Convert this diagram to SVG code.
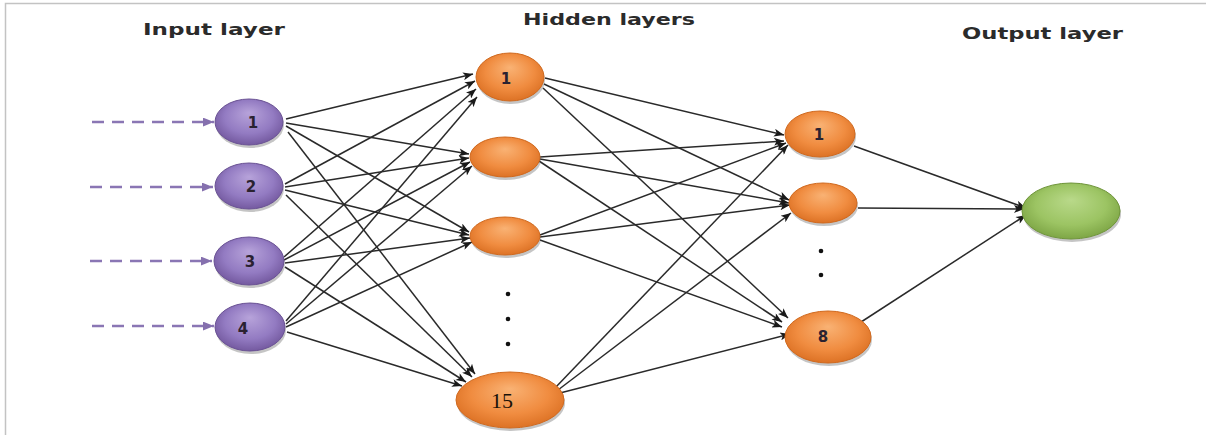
<svg xmlns="http://www.w3.org/2000/svg" width="1206" height="435" viewBox="0 0 1206 435">
  <defs>
    <radialGradient id="gPurple" cx="0.5" cy="0.45" r="0.6" fx="0.5" fy="0.3">
      <stop offset="0" stop-color="#b7a3da"/>
      <stop offset="0.6" stop-color="#937bc2"/>
      <stop offset="1" stop-color="#6e5399"/>
    </radialGradient>
    <radialGradient id="gOrange" cx="0.5" cy="0.45" r="0.6" fx="0.5" fy="0.3">
      <stop offset="0" stop-color="#f9b274"/>
      <stop offset="0.6" stop-color="#f08c40"/>
      <stop offset="1" stop-color="#d96d20"/>
    </radialGradient>
    <radialGradient id="gGreen" cx="0.5" cy="0.45" r="0.6" fx="0.5" fy="0.3">
      <stop offset="0" stop-color="#b9d98a"/>
      <stop offset="0.6" stop-color="#9cc463"/>
      <stop offset="1" stop-color="#78a040"/>
    </radialGradient>
    <marker id="arr" viewBox="0 0 10 8" refX="10" refY="4" markerWidth="11" markerHeight="8" markerUnits="userSpaceOnUse" orient="auto">
      <path d="M0,0 L10,4 L0,8 L2.5,4 Z" fill="#1a1a1a"/>
    </marker>
    <marker id="arrIn" viewBox="0 0 10 8" refX="10" refY="4" markerWidth="11" markerHeight="9" markerUnits="userSpaceOnUse" orient="auto">
      <path d="M0,0 L10,4 L0,8 Z" fill="#8570ae"/>
    </marker>
  </defs>
  <style>
    .title { font-family: "DejaVu Sans", Verdana, sans-serif; font-weight: bold; font-size: 15px; fill: #2b2b2b; }
    .num { font-family: "DejaVu Sans", Verdana, sans-serif; font-weight: bold; font-size: 15px; fill: #2a2230; text-anchor: middle; }
    .num15 { font-family: "Liberation Serif", "Times New Roman", serif; font-size: 22px; fill: #1a1208; text-anchor: middle; }
    .shadow { fill: #5a5a5a; opacity: 0.35; }
    .edge { stroke: #2a2a2a; stroke-width: 1.5; fill: none; marker-end: url(#arr); }
    .feed { stroke: #8a76b4; stroke-width: 2.5; stroke-dasharray: 12 8; fill: none; marker-end: url(#arrIn); }
    .dot { fill: #111; }
    .purple { fill: url(#gPurple); stroke: #6a5294; stroke-width: 1; }
    .orange { fill: url(#gOrange); stroke: #d0691e; stroke-width: 1; }
    .green { fill: url(#gGreen); stroke: #6f953a; stroke-width: 1; }
  </style>

  <!-- frame -->
  <rect x="0" y="0" width="1206" height="435" fill="#ffffff"/>
  <path d="M5.5,435 L5.5,3.5 L1206,3.5" fill="none" stroke="#c3c3c3" stroke-width="1.5"/>

  <!-- layer titles -->
  <text class="title" x="143" y="35" textLength="142" lengthAdjust="spacingAndGlyphs">Input layer</text>
  <text class="title" x="523" y="25" textLength="172" lengthAdjust="spacingAndGlyphs">Hidden layers</text>
  <text class="title" x="962" y="39" textLength="161" lengthAdjust="spacingAndGlyphs">Output layer</text>

  <g id="connectors">
    <!-- incoming signals -->
    <line class="feed" x1="92" y1="122" x2="214" y2="122"/>
    <line class="feed" x1="90" y1="187" x2="213" y2="187"/>
    <line class="feed" x1="90" y1="261" x2="212" y2="261"/>
    <line class="feed" x1="92" y1="326" x2="214" y2="326"/>

    <!-- input -> hidden 1 -->
    <line class="edge" x1="286" y1="119" x2="473" y2="74"/>
    <line class="edge" x1="285" y1="184" x2="475" y2="81"/>
    <line class="edge" x1="284" y1="257" x2="476" y2="89"/>
    <line class="edge" x1="286" y1="321" x2="477" y2="97"/>
    <!-- input -> hidden 2 -->
    <line class="edge" x1="286" y1="123" x2="469" y2="154"/>
    <line class="edge" x1="285" y1="187" x2="469" y2="158"/>
    <line class="edge" x1="284" y1="260" x2="470" y2="162"/>
    <line class="edge" x1="286" y1="324" x2="472" y2="166"/>
    <!-- input -> hidden 3 -->
    <line class="edge" x1="286" y1="126" x2="469" y2="232"/>
    <line class="edge" x1="285" y1="190" x2="469" y2="235"/>
    <line class="edge" x1="285" y1="263" x2="470" y2="238"/>
    <line class="edge" x1="286" y1="327" x2="472" y2="242"/>
    <!-- input -> hidden 15 -->
    <line class="edge" x1="288" y1="132" x2="475" y2="374"/>
    <line class="edge" x1="286" y1="195" x2="472" y2="377"/>
    <line class="edge" x1="285" y1="267" x2="466" y2="382"/>
    <line class="edge" x1="287" y1="332" x2="462" y2="386"/>

    <!-- hidden 1 -> second hidden layer -->
    <line class="edge" x1="545" y1="78" x2="784" y2="135"/>
    <line class="edge" x1="544" y1="84" x2="789" y2="200"/>
    <line class="edge" x1="543" y1="88" x2="788" y2="318"/>
    <!-- hidden 2 -->
    <line class="edge" x1="540" y1="157" x2="784" y2="141"/>
    <line class="edge" x1="540" y1="159" x2="789" y2="203"/>
    <line class="edge" x1="539" y1="161" x2="782" y2="322"/>
    <!-- hidden 3 -->
    <line class="edge" x1="540" y1="235" x2="786" y2="143"/>
    <line class="edge" x1="540" y1="237" x2="790" y2="205"/>
    <line class="edge" x1="540" y1="240" x2="782" y2="327"/>
    <!-- hidden 15 -->
    <line class="edge" x1="555" y1="388" x2="788" y2="145"/>
    <line class="edge" x1="558" y1="390" x2="791" y2="213"/>
    <line class="edge" x1="560" y1="393" x2="790" y2="334"/>

    <!-- second hidden layer -> output -->
    <line class="edge" x1="854" y1="146" x2="1026" y2="208"/>
    <line class="edge" x1="858" y1="208" x2="1024" y2="209"/>
    <line class="edge" x1="858" y1="324" x2="1026" y2="215"/>
  </g>

  <!-- input layer -->
  <g id="in1">
    <ellipse class="shadow" cx="250" cy="125" rx="34" ry="23"/>
    <ellipse class="purple" cx="249" cy="122" rx="34" ry="23"/>
    <text class="num" x="253" y="128">1</text>
  </g>
  <g id="in2">
    <ellipse class="shadow" cx="250" cy="189" rx="34" ry="23"/>
    <ellipse class="purple" cx="249" cy="186" rx="34" ry="23"/>
    <text class="num" x="251" y="192">2</text>
  </g>
  <g id="in3">
    <ellipse class="shadow" cx="250" cy="264" rx="35" ry="24"/>
    <ellipse class="purple" cx="249" cy="261" rx="35" ry="24"/>
    <text class="num" x="250" y="267">3</text>
  </g>
  <g id="in4">
    <ellipse class="shadow" cx="251" cy="330" rx="35" ry="24"/>
    <ellipse class="purple" cx="250" cy="327" rx="35" ry="24"/>
    <text class="num" x="243" y="334">4</text>
  </g>

  <!-- first hidden layer -->
  <g id="h1">
    <ellipse class="shadow" cx="511" cy="80" rx="34" ry="24"/>
    <ellipse class="orange" cx="510" cy="77" rx="34" ry="24"/>
    <text class="num" x="506" y="84">1</text>
  </g>
  <g id="h2">
    <ellipse class="shadow" cx="506" cy="160" rx="35" ry="20"/>
    <ellipse class="orange" cx="505" cy="157" rx="35" ry="20"/>
  </g>
  <g id="h3">
    <ellipse class="shadow" cx="506" cy="239" rx="35" ry="19"/>
    <ellipse class="orange" cx="505" cy="236" rx="35" ry="19"/>
  </g>
  <g id="h-dots">
    <circle class="dot" cx="508" cy="294" r="2.3"/>
    <circle class="dot" cx="508" cy="319" r="2.3"/>
    <circle class="dot" cx="508" cy="344" r="2.3"/>
  </g>
  <g id="h15">
    <ellipse class="shadow" cx="511" cy="403" rx="54" ry="28"/>
    <ellipse class="orange" cx="510" cy="400" rx="54" ry="28"/>
    <text class="num15" x="502" y="408">15</text>
  </g>

  <!-- second hidden layer -->
  <g id="k1">
    <ellipse class="shadow" cx="821" cy="137" rx="35" ry="23"/>
    <ellipse class="orange" cx="820" cy="134" rx="35" ry="23"/>
    <text class="num" x="819" y="140">1</text>
  </g>
  <g id="k2">
    <ellipse class="shadow" cx="824" cy="206" rx="34" ry="20"/>
    <ellipse class="orange" cx="823" cy="203" rx="34" ry="20"/>
  </g>
  <g id="k-dots">
    <circle class="dot" cx="821" cy="251" r="2.3"/>
    <circle class="dot" cx="821" cy="275" r="2.3"/>
  </g>
  <g id="k8">
    <ellipse class="shadow" cx="829" cy="340" rx="43" ry="26"/>
    <ellipse class="orange" cx="828" cy="337" rx="43" ry="26"/>
    <text class="num" x="823" y="342">8</text>
  </g>

  <!-- output layer -->
  <g id="out">
    <ellipse class="shadow" cx="1072" cy="214" rx="49" ry="28"/>
    <ellipse class="green" cx="1071" cy="211" rx="49" ry="28"/>
  </g>
</svg>
